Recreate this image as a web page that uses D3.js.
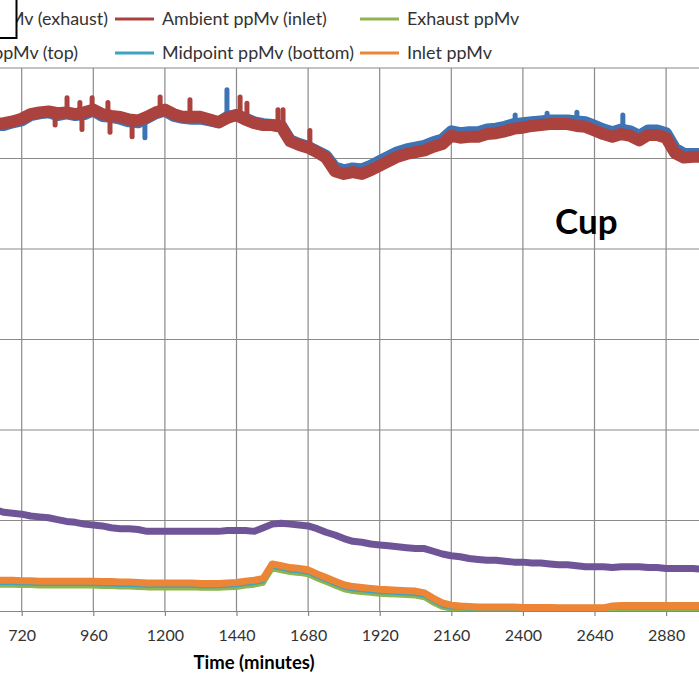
<!DOCTYPE html>
<html>
<head>
<meta charset="utf-8">
<script src="https://cdn.jsdelivr.net/npm/d3@7"></script>
<style>
  body { margin: 0; background: #fff; overflow: hidden; }
  text { font-family: Lato, "Open Sans", sans-serif; }
</style>
</head>
<body>
<div id="chart"></div>
<script>
// sample times, minutes (every 30 min)
const times = d3.range(600, 3001, 30);

const ambientExhaust = [536,537,537,540,542,548,550,551,548,550,
  548,549,553,547,546,544,541,540,545,550,
  553,547,545,544,544,542,540,546,548,544,
  540,538,537,536,520,516,513,508,503,490,
  487,489,488,492,497,502,507,510,512,514,
  518,521,530,528,529,529,532,533,535,538,
  539,540,541,542,542,542,541,540,536,532,
  529,532,530,525,531,531,528,511,505,505,
  505];
const ambientInlet = [537,538,539,541,544,549,551,552,550,551,
  549,551,554,549,547,546,543,542,546,551,
  554,549,546,546,546,543,540,545,548,543,
  539,537,537,535,519,515,512,507,501,486,
  483,485,483,487,492,497,502,505,507,509,
  513,516,525,523,524,524,527,528,530,533,
  534,536,537,538,538,538,536,535,531,527,
  524,527,525,520,526,526,523,506,501,502,
  502];
const exhaust = [28,28,28,28,27.5,27.5,27,27,27,27,
  27,27,27,26.5,26.5,26,26,25.5,25,25,
  25,25,25,25,24.5,24.5,24.5,25,25.5,27,
  28,30,46,44,42,41,39.5,35,31,27,
  23,21,20,19,18,17.5,17,16.5,16,14,
  8,3.5,1.5,1,1,1,1,1,1,1,
  1,1,1,1,1,1,1,1,1,1,
  1,1,1,1,1,1,1,1,1,1,
  1];
const midTop = [113,112,109,108,107,105,104,103,101,99,
  98,96,95,94,92,91,91,90,88,88,
  88,88,88,88,88,88,88,89,89,89,
  88,92,96,97,96,95,94,91,87,84,
  80,77,76,74,73,72,71,70,69,69,
  66,63,61,60,58,57,56,56,55,54,
  54,53,53,52,51,51,50,49,49,49,
  48,49,49,49,48,48,47,47,47,47,
  46];
const midBottom = [30,30,30,30,29.5,29.5,29,29,29,29,
  29,29,29,28.5,28.5,28,28,27.5,27,27,
  27,27,27,27,26.5,26.5,26.5,27,27.5,29,
  30,32,48,46,44,43,41.5,37,33,29,
  25,23,22,21,20,19.5,19,18.5,18,16,
  10,5,3,2.5,2,2,2,2,2,2,
  1.8,1.8,1.8,1.8,1.8,1.8,1.8,1.8,1.8,1.8,
  3,3,3,3,3,3,3,3,3,3,
  3];
const inlet = [34,34,34,34,33.5,33.5,33,33,33,33,
  33,33,33,32.5,32.5,32,32,31.5,31,31,
  31,31,31,31,30.5,30.5,30.5,31,31.5,33,
  34,36,52,50,48,47,45.5,41,37,33,
  29,27,26,25,24,23.5,23,22.5,22,20,
  14,9,6.5,5.5,5,4.5,4.5,4.5,4.5,4.5,
  4,4,4,4,3.5,3.5,3.5,3.5,3.5,3.5,
  5.5,6,6,6,6,6,6,6,6,6,
  6];

// short noise spikes: [time, from, to]
const exhaustSpikes = [[1133,544,523],[1408,546,576],[2374,538,548],[2481,542,550],[2581,541,551],[2735,532,548]];
const inletSpikes = [[832,550,537],[872,551,567],[915,549,562],[922,550,532],[956,553,567],
  [1009,548,562],[1016,547,529],[1090,543,524],[1184,552,568],[1284,546,565],
  [1452,547,568],[1475,544,561],[1579,536,554],[1596,533,554],[1686,511,531]];

const seriesNames = ['Ambient ppMv (exhaust)', 'Ambient ppMv (inlet)', 'Exhaust ppMv',
  'Midpoint ppMv (top)', 'Midpoint ppMv (bottom)', 'Inlet ppMv'];
const seriesColors = ['#3f73b3', '#ab423e', '#8fb450', '#6f5598', '#3fa3c2', '#ec8535'];
const seriesWidths = [12, 12, 4, 7, 2.5, 7];
const seriesValues = [ambientExhaust, ambientInlet, exhaust, midTop, midBottom, inlet];

const xTicks = d3.range(0, 3121, 240);
const yTicks = d3.range(0, 601, 100);

const width = 699, height = 675;

const svg = d3.select('#chart').append('svg')
  .attr('width', width)
  .attr('height', height);

const x = d3.scaleLinear().domain([0, 3120]).range([-193.1, 737.7]);
const y = d3.scaleLinear().domain([0, 600]).range([611, 68]);

svg.append('clipPath').attr('id', 'plot')
  .append('rect')
  .attr('x', x(0)).attr('y', y(600))
  .attr('width', x(3120) - x(0)).attr('height', y(0) - y(600));

// gridlines
svg.append('g').selectAll('line').data(xTicks.slice(1)).join('line')
  .attr('x1', d => x(d)).attr('x2', d => x(d))
  .attr('y1', y(0)).attr('y2', y(600))
  .style('stroke', '#8a8a8a').style('stroke-width', 1.2);
svg.append('g').selectAll('line').data(yTicks.slice(1)).join('line')
  .attr('x1', x(0)).attr('x2', x(3120))
  .attr('y1', d => y(d)).attr('y2', d => y(d))
  .style('stroke', '#8a8a8a').style('stroke-width', 1.2);

// axes (only the labels inside the window are shown)
const shown = xTicks.filter(d => x(d) > 0 && x(d) < width);
const xAxis = svg.append('g')
  .attr('transform', `translate(0, ${y(0)})`)
  .call(d3.axisBottom(x).tickValues(shown).tickFormat(d3.format('d'))
    .tickSize(5).tickSizeOuter(0).tickPadding(14));
xAxis.select('.domain').style('stroke', '#868686').style('stroke-width', 1.2);
xAxis.selectAll('.tick line').style('stroke', '#868686').style('stroke-width', 1.2);
xAxis.selectAll('.tick text').style('font-size', '16px').style('fill', '#333')
  .style('font-family', 'Lato, sans-serif');

// series
const plot = svg.append('g').attr('clip-path', 'url(#plot)');
const line = d3.line().x(d => x(d[0])).y(d => y(d[1]));

const drawSpikes = (spikes, color) => {
  plot.append('g').selectAll('line').data(spikes).join('line')
    .attr('x1', d => x(d[0])).attr('x2', d => x(d[0]))
    .attr('y1', d => y(d[1])).attr('y2', d => y(d[2]))
    .style('stroke', color).style('stroke-width', 5).style('stroke-linecap', 'round');
}

seriesValues.forEach((vals, i) => {
  if (i === 0) drawSpikes(exhaustSpikes, seriesColors[0]);
  if (i === 1) drawSpikes(inletSpikes, seriesColors[1]);
  plot.append('path')
    .datum(times.map((t, j) => [t, vals[j]]))
    .attr('d', line)
    .style('fill', 'none')
    .style('stroke', seriesColors[i])
    .style('stroke-width', seriesWidths[i])
    .style('stroke-linejoin', 'round');
});

// legend, 3 columns x 2 rows
const legend = svg.append('g');
const colX = [-130, 115, 360];
const rowY = [19, 53];
seriesNames.forEach((name, i) => {
  const c = i % 3, r = Math.floor(i / 3);
  legend.append('line')
    .attr('x1', colX[c]).attr('x2', colX[c] + 39)
    .attr('y1', rowY[r]).attr('y2', rowY[r])
    .style('stroke', seriesColors[i]).style('stroke-width', 3);
  const t = legend.append('text')
    .attr('y', rowY[r] + 6)
    .style('font-size', '17.9px')
    .style('fill', '#333')
    .text(name);
  if (c === 0) {
    // first column runs off the left edge; line up its end
    t.attr('x', r === 0 ? 108 : 78).attr('text-anchor', 'end');
  } else {
    t.attr('x', colX[c] + 47);
  }
});

// box overlapping the top-left corner
svg.append('rect')
  .attr('x', -60).attr('y', -10)
  .attr('width', 76.5).attr('height', 48)
  .style('fill', '#fff').style('stroke', '#000').style('stroke-width', 2);

svg.append('text')
  .attr('x', 555).attr('y', 234)
  .style('font-size', '35px').style('font-weight', 'bold').style('fill', '#000')
  .text('Cup');

svg.append('text')
  .attr('x', 254).attr('y', 669)
  .attr('text-anchor', 'middle')
  .style('font-size', '18.5px').style('font-weight', 'bold').style('fill', '#000')
  .text('Time (minutes)');
</script>
</body>
</html>
